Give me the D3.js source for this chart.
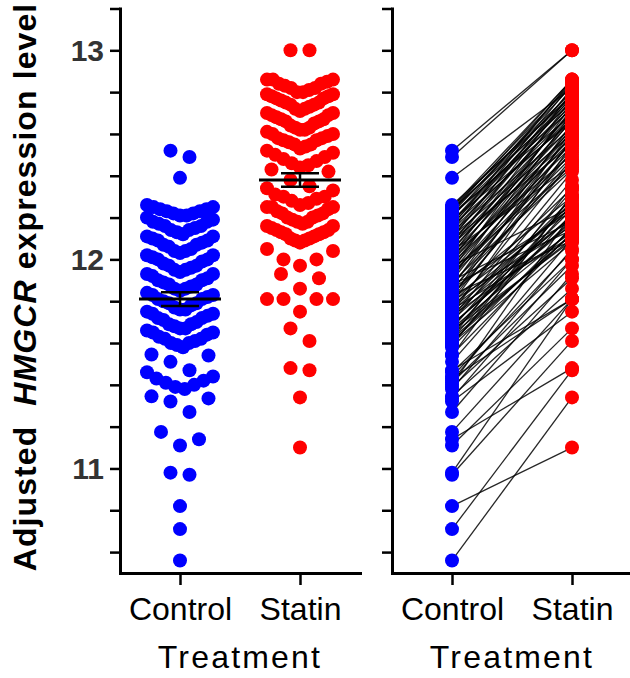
<!DOCTYPE html>
<html><head><meta charset="utf-8">
<script src="https://cdn.jsdelivr.net/npm/d3@7"></script>
<style>body{margin:0;background:#fff} svg{display:block}</style>
</head><body>
<svg id="chart" width="630" height="678"></svg>
<script>
// ---------------- data ----------------
const categories = ["Control", "Statin"];

// paired samples: controlValues[i] <-> statinValues[i]
const controlValues = [
  10.56, 10.71, 10.82, 10.97, 10.98, 11.11, 11.14, 11.175, 11.27, 11.32,
  11.335, 11.345, 11.38, 11.39, 11.40, 11.41, 11.42, 11.43, 11.44, 11.46,
  11.47, 11.51, 11.54, 11.545,
  11.58, 11.59, 11.60, 11.60, 11.61, 11.62, 11.62, 11.63, 11.64, 11.65,
  11.65, 11.66, 11.67, 11.67, 11.68, 11.69, 11.69, 11.70, 11.71, 11.72,
  11.72, 11.73, 11.74, 11.74, 11.75, 11.76, 11.76, 11.77, 11.78, 11.79,
  11.79, 11.80, 11.81, 11.81, 11.82, 11.83, 11.83, 11.84, 11.85, 11.86,
  11.86, 11.87, 11.88, 11.88, 11.89, 11.90, 11.90, 11.91, 11.92, 11.93,
  11.93, 11.94, 11.95, 11.95, 11.96, 11.97, 11.97, 11.98, 11.99, 12.00,
  12.00, 12.01, 12.02, 12.02, 12.03, 12.04, 12.04, 12.05, 12.06, 12.07,
  12.07, 12.08, 12.09, 12.09, 12.10, 12.11, 12.11, 12.12, 12.13, 12.14,
  12.14, 12.15, 12.16, 12.16, 12.17, 12.18, 12.18, 12.19, 12.20, 12.21,
  12.21, 12.22, 12.22, 12.23, 12.23, 12.24, 12.24, 12.25, 12.25, 12.26,
  12.39, 12.49, 12.52
];
const statinValues = [
  11.34, 11.47, 11.10, 11.61, 11.81, 11.67, 11.48, 11.81, 11.93, 11.75,
  12.00, 11.86, 12.05, 11.91, 12.22, 11.97, 12.10, 11.81, 12.04, 12.00,
  11.81, 12.16, 12.31, 12.13,
  12.15, 12.30, 12.08, 12.22, 12.12, 12.12, 12.26, 12.35, 12.10, 12.19,
  12.28, 12.09, 12.14, 12.33, 12.24, 12.18, 12.17, 12.38, 12.21, 12.29,
  12.42, 12.13, 12.20, 12.55, 12.27, 12.11, 12.47, 12.20, 12.25, 12.58,
  12.34, 12.16, 12.25, 12.52, 12.62, 12.09, 12.48, 12.30, 12.57, 12.23,
  12.46, 12.65, 12.14, 12.53, 12.43, 12.60, 12.18, 12.70, 12.49, 12.56,
  12.51, 12.63, 12.44, 12.74, 12.59, 12.25, 12.67, 12.54, 12.61, 12.72,
  12.57, 12.68, 12.50, 12.77, 12.62, 12.45, 12.71, 12.64, 12.80, 12.58,
  12.66, 12.75, 12.55, 12.69, 12.82, 12.60, 12.73, 12.78, 12.63, 12.84,
  12.70, 12.79, 12.67, 12.86, 12.74, 12.76, 12.81, 12.66, 12.85, 12.72,
  12.77, 12.83, 12.69, 12.86, 12.79, 12.75, 12.84, 12.80, 12.86, 12.78,
  12.82, 13.00, 13.00
];
const groupMeans = [11.81, 12.38];
const groupSEM = [0.033, 0.032];

const yTickValues = [10.6, 10.8, 11.0, 11.2, 11.4, 11.6, 11.8, 12.0, 12.2, 12.4, 12.6, 12.8, 13.0, 13.2];
const yLabelValues = [11, 12, 13];
const xTitle = "Treatment";
const groupColors = ["#0000ff", "#ff0000"];

// ---------------- layout ----------------
const FONT = "'Liberation Sans', Arial, Helvetica, sans-serif";
const R = 7;
const GROUP_SPAN = 0.085;
const MAX_STEP = 19;
const MAX_HALF = 33;

const svg = d3.select("#chart");
const y = d3.scaleLinear().domain([10.5, 13.2]).range([573, 8.5]);
const xLeft = d3.scalePoint().domain(categories).range([120, 360]).padding(0.5);
const xRight = d3.scalePoint().domain(categories).range([392, 632]).padding(0.5);

function swarm(values, cx) {
  const idx = d3.range(values.length).sort((a, b) => values[a] - values[b]);
  const pos = new Array(values.length);
  let i = 0;
  while (i < idx.length) {
    const start = values[idx[i]];
    const group = [];
    while (i < idx.length && values[idx[i]] - start < GROUP_SPAN - 1e-9) { group.push(idx[i]); i++; }
    const n = group.length;
    const step = n > 1 ? Math.min(MAX_STEP, 2 * MAX_HALF / (n - 1)) : 0;
    group.forEach((g, k) => {
      let off;
      if (n % 2 === 1) {
        const m = Math.ceil(k / 2);
        off = (k === 0 ? 0 : (k % 2 === 1 ? m : -m)) * step;
      } else {
        const m = Math.floor(k / 2) + 0.5;
        off = (k % 2 === 0 ? m : -m) * step;
      }
      pos[g] = cx + off;
    });
  }
  return pos;
}

function drawAxes(g, xs, withLabels) {
  const ay = g.append("g").attr("transform", `translate(${xs.range()[0]},0)`)
    .call(d3.axisLeft(y).tickValues(yTickValues).tickSize(10).tickSizeOuter(0).tickPadding(6)
      .tickFormat(d => (withLabels && yLabelValues.some(v => Math.abs(v - d) < 1e-9)) ? d3.format("d")(d) : ""));
  ay.select(".domain").attr("stroke-width", 3).attr("stroke-linecap", "square");
  ay.selectAll(".tick line").attr("stroke-width", 2.5);
  ay.selectAll(".tick text").style("font-family", FONT).style("font-size", "30px")
    .style("font-weight", "bold").attr("fill", "#333").attr("dy", "0.35em");

  const ax = g.append("g").attr("transform", `translate(0,${y.range()[0]})`)
    .call(d3.axisBottom(xs).tickSize(12).tickSizeOuter(0).tickPadding(12));
  ax.select(".domain").attr("stroke-width", 3).attr("stroke-linecap", "square");
  ax.selectAll(".tick line").attr("stroke-width", 2.5);
  ax.selectAll(".tick text").style("font-family", FONT).style("font-size", "32px").attr("fill", "#000");

  const r = xs.range();
  g.append("text").attr("x", (r[0] + r[1]) / 2).attr("y", 668)
    .attr("text-anchor", "middle").style("font-family", FONT).style("font-size", "32px")
    .style("letter-spacing", "2.2px").text(xTitle);
}

// ---------------- left panel: swarm + mean ± SEM ----------------
const left = svg.append("g");
[controlValues, statinValues].forEach((vals, gi) => {
  const cx = xLeft(categories[gi]);
  const xs = swarm(vals, cx);
  left.append("g").selectAll("circle").data(vals).join("circle")
    .attr("cx", (d, i) => xs[i]).attr("cy", d => y(d)).attr("r", R)
    .attr("fill", groupColors[gi]);
});
categories.forEach((c, gi) => {
  const cx = xLeft(c), m = groupMeans[gi], s = groupSEM[gi];
  const g = left.append("g").attr("stroke", "#000");
  g.append("line").attr("x1", cx).attr("x2", cx).attr("y1", y(m - s)).attr("y2", y(m + s)).attr("stroke-width", 2.5);
  g.append("line").attr("x1", cx - 19).attr("x2", cx + 19).attr("y1", y(m + s)).attr("y2", y(m + s)).attr("stroke-width", 2.5);
  g.append("line").attr("x1", cx - 19).attr("x2", cx + 19).attr("y1", y(m - s)).attr("y2", y(m - s)).attr("stroke-width", 2.5);
  g.append("line").attr("x1", cx - 41).attr("x2", cx + 41).attr("y1", y(m)).attr("y2", y(m)).attr("stroke-width", 3);
});
drawAxes(left, xLeft, true);

// ---------------- right panel: paired lines ----------------
const right = svg.append("g");
const pairs = controlValues.map((c, i) => [c, statinValues[i]]);
right.append("g").selectAll("line").data(pairs).join("line")
  .attr("x1", xRight(categories[0])).attr("x2", xRight(categories[1]))
  .attr("y1", d => y(d[0])).attr("y2", d => y(d[1]))
  .attr("stroke", "#000").attr("stroke-width", 1.3).attr("stroke-opacity", 0.85);
[controlValues, statinValues].forEach((vals, gi) => {
  right.append("g").selectAll("circle").data(vals).join("circle")
    .attr("cx", xRight(categories[gi])).attr("cy", d => y(d)).attr("r", R)
    .attr("fill", groupColors[gi]);
});
drawAxes(right, xRight, false);

// ---------------- y title ----------------
const title = svg.append("text").attr("transform", "translate(36,287) rotate(-90)")
  .attr("text-anchor", "middle").style("font-family", FONT).style("font-size", "32px")
  .style("font-weight", "bold").style("letter-spacing", "1.1px");
title.append("tspan").text("Adjusted\u00a0 ");
title.append("tspan").style("font-style", "italic").text("HMGCR");
title.append("tspan").text(" expression level");
</script>
</body></html>
